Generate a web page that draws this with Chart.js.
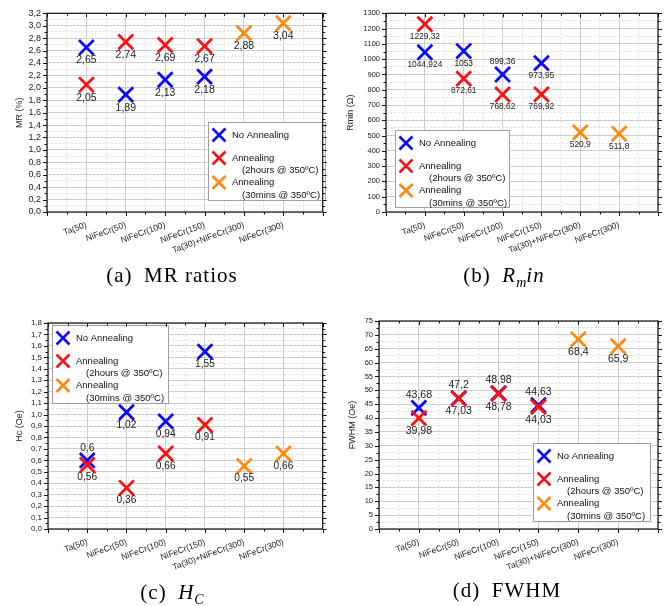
<!DOCTYPE html>
<html>
<head>
<meta charset="utf-8">
<script src="https://cdn.jsdelivr.net/npm/chart.js@4.4.1/dist/chart.umd.min.js"></script>
<style>
  body { margin: 0; background: #fff; }
  #fig { position: relative; width: 672px; height: 606px; overflow: hidden; }
  #fig canvas { position: absolute; }
  .cap {
    position: absolute; width: 336px; text-align: center;
    font-family: "Liberation Serif", "DejaVu Serif", serif; font-size: 21px;
    letter-spacing: 1px; color: #000; line-height: 22px;
  }
  .cap sub { font-size: 14px; letter-spacing: 0; }
</style>
</head>
<body>
<div id="fig">
  <canvas id="chartMR" width="336" height="290" style="left:0;top:0"></canvas>
  <canvas id="chartR" width="336" height="290" style="left:336px;top:0"></canvas>
  <canvas id="chartHc" width="336" height="290" style="left:0;top:300px"></canvas>
  <canvas id="chartFW" width="336" height="290" style="left:336px;top:300px"></canvas>
  <div class="cap" style="left:4px;top:264px">(a)&ensp;MR ratios</div>
  <div class="cap" style="left:336px;top:264px">(b)&ensp;<i>R</i><sub><i>m</i></sub><i>in</i></div>
  <div class="cap" style="left:4px;top:581px">(c)&ensp;<i>H</i><sub><i>C</i></sub></div>
  <div class="cap" style="left:339px;top:579px">(d)&ensp;FWHM</div>
</div>
<script>
// samples along the x axis
var samples = ['Ta(50)', 'NiFeCr(50)', 'NiFeCr(100)', 'NiFeCr(150)', 'Ta(30)+NiFeCr(300)', 'NiFeCr(300)'];
var seriesNames = [['No Annealing'], ['Annealing', '(2hours @ 350ºC)'], ['Annealing', '(30mins @ 350ºC)']];

// MR ratio (%)
var mrNoAnneal = [2.65, 1.89, 2.13, 2.18, null, null];
var mrAnneal2h = [2.05, 2.74, 2.69, 2.67, null, null];
var mrAnneal30 = [null, null, null, null, 2.88, 3.04];

// Rmin (ohm)
var rNoAnneal = [1044.924, 1053, 899.36, 973.95, null, null];
var rAnneal2h = [1229.32, 872.61, 768.62, 769.92, null, null];
var rAnneal30 = [null, null, null, null, 520.9, 511.8];

// Hc (Oe)
var hcNoAnneal = [0.6, 1.02, 0.94, 1.55, null, null];
var hcAnneal2h = [0.56, 0.36, 0.66, 0.91, null, null];
var hcAnneal30 = [null, null, null, null, 0.55, 0.66];

// FWHM (Oe)
var fwNoAnneal = [43.68, 47.2, 48.98, 44.63, null, null];
var fwAnneal2h = [39.98, 47.03, 48.78, 44.03, null, null];
var fwAnneal30 = [null, null, null, null, 68.4, 65.9];

var COLORS = ['#0a0aff', '#ff1010', '#ff8a10'];
var SANS = '"Liberation Sans", Arial, sans-serif';
Chart.defaults.font.family = SANS;
Chart.defaults.color = '#222';

function isMajor(v, step) {
  var r = v / step;
  return Math.abs(r - Math.round(r)) < 1e-6;
}

function drawX(ctx, x, y, half, color) {
  ctx.strokeStyle = color;
  ctx.lineWidth = 2.6;
  ctx.beginPath();
  ctx.moveTo(x - half, y - half); ctx.lineTo(x + half, y + half);
  ctx.moveTo(x - half, y + half); ctx.lineTo(x + half, y - half);
  ctx.stroke();
}

// value written under (or over) each cross, with a decimal comma
var pointLabels = {
  id: 'pointLabels',
  afterDatasetsDraw: function (chart, args, opts) {
    var ctx = chart.ctx;
    ctx.save();
    ctx.font = opts.size + 'px ' + SANS;
    ctx.fillStyle = '#222';
    ctx.textAlign = 'center';
    ctx.textBaseline = 'middle';
    chart.data.datasets.forEach(function (ds, i) {
      var meta = chart.getDatasetMeta(i);
      ds.data.forEach(function (p, j) {
        if (p.y == null) return;
        var el = meta.data[j];
        var above = ds.labelAbove && ds.labelAbove[j];
        ctx.fillText(String(p.y).replace('.', ','), el.x, el.y + (above ? -opts.gap : opts.gap));
      });
    });
    ctx.restore();
  }
};

// boxed legend sitting inside the plot
var boxLegend = {
  id: 'boxLegend',
  afterDraw: function (chart, args, opts) {
    var ctx = chart.ctx;
    var rows = [13, 36, 60.5];
    ctx.save();
    ctx.fillStyle = '#fff';
    ctx.fillRect(opts.x, opts.y, opts.w, opts.h);
    ctx.strokeStyle = '#a0a0a0';
    ctx.lineWidth = 1;
    ctx.strokeRect(opts.x + 0.5, opts.y + 0.5, opts.w, opts.h);
    ctx.font = '9.5px ' + SANS;
    ctx.textBaseline = 'middle';
    seriesNames.forEach(function (lines, i) {
      var y = opts.y + rows[i];
      drawX(ctx, opts.x + 11, y, 6.5, COLORS[i]);
      ctx.fillStyle = '#111';
      lines.forEach(function (t, k) {
        ctx.fillText(t, opts.x + (k ? 34 : 24), y + k * 12.5);
      });
    });
    ctx.restore();
  }
};

// black box round the plot with tick marks on every side
var frame = {
  id: 'frame',
  afterDraw: function (chart, args, opts) {
    var ctx = chart.ctx, a = chart.chartArea;
    var xs = chart.scales.x, ys = chart.scales.y;
    ctx.save();
    ctx.strokeStyle = '#111';
    ctx.lineWidth = 1.2;
    ctx.strokeRect(a.left, a.top, a.right - a.left, a.bottom - a.top);
    ctx.lineWidth = 1;
    ctx.beginPath();
    ys.ticks.forEach(function (t) {
      var py = Math.round(ys.getPixelForValue(t.value)) + 0.5;
      var len = isMajor(t.value, opts.yMajor) ? 4 : 2.5;
      ctx.moveTo(a.left - len, py); ctx.lineTo(a.left, py);
      ctx.moveTo(a.right, py); ctx.lineTo(a.right + len, py);
    });
    xs.ticks.forEach(function (t) {
      var px = Math.round(xs.getPixelForValue(t.value)) + 0.5;
      var len = isMajor(t.value, 1) ? 4 : 2.5;
      ctx.moveTo(px, a.bottom); ctx.lineTo(px, a.bottom + len);
      ctx.moveTo(px, a.top); ctx.lineTo(px, a.top + len);
    });
    ctx.stroke();
    ctx.restore();
  }
};

function gridColor(step) {
  return function (c) {
    return isMajor(c.tick.value, step) ? '#cdcdcd' : '#e2e2e2';
  };
}
function gridDash(step) {
  return function (c) {
    return c.tick && !isMajor(c.tick.value, step) ? [2, 2] : [];
  };
}

function buildChart(id, cfg) {
  var ctx = document.getElementById(id).getContext('2d');
  var H = ctx.canvas.height, W = ctx.canvas.width;
  var datasets = cfg.series.map(function (vals, k) {
    return {
      label: seriesNames[k].join(' '),
      data: vals.map(function (v, i) { return { x: i + 1, y: v }; }),
      pointStyle: 'crossRot',
      pointRadius: 10.5,
      pointHoverRadius: 10.5,
      pointBorderWidth: 2.8,
      borderColor: COLORS[k],
      backgroundColor: COLORS[k],
      showLine: false,
      order: k === 1 ? 0 : k + 1,
      labelAbove: cfg.labelAbove[k]
    };
  });
  return new Chart(ctx, {
    type: 'scatter',
    data: { datasets: datasets },
    plugins: [pointLabels, boxLegend, frame],
    options: {
      responsive: false,
      animation: false,
      events: [],
      layout: { padding: { top: cfg.area.top, right: W - cfg.area.right, left: 0, bottom: 0 } },
      scales: {
        x: {
          type: 'linear', min: 0, max: 7,
          ticks: {
            stepSize: 0.5, autoSkip: false, maxTicksLimit: 1000,
            minRotation: 20, maxRotation: 20, padding: 8,
            font: { size: 8.5 }, color: '#222',
            callback: function (v) {
              return (Number.isInteger(v) && v >= 1 && v <= 6) ? samples[v - 1] : '';
            }
          },
          grid: { drawTicks: false, color: gridColor(1), lineWidth: 1 },
          border: { display: false, dash: gridDash(1) },
          afterFit: function (s) { s.height = H - cfg.area.bottom; s.paddingLeft = 0; s.paddingRight = 0; }
        },
        y: {
          min: 0, max: cfg.yMax,
          ticks: {
            stepSize: cfg.yMinor, maxTicksLimit: 1000, autoSkip: false, padding: 6,
            font: { size: cfg.tickSize }, color: '#222',
            callback: function (v) {
              return isMajor(v, cfg.yMajor) ? v.toFixed(cfg.decimals).replace('.', ',') : '';
            }
          },
          grid: { drawTicks: false, color: gridColor(cfg.yMajor), lineWidth: 1 },
          border: { display: false, dash: gridDash(cfg.yMajor) },
          title: {
            display: true, text: cfg.yTitle, color: '#222',
            font: { size: 9 }, padding: { top: cfg.titlePad, bottom: 0 }
          },
          afterFit: function (s) { s.width = cfg.area.left; s.paddingTop = 0; s.paddingBottom = 0; }
        }
      },
      plugins: {
        legend: { display: false },
        tooltip: { enabled: false },
        pointLabels: { size: cfg.labelSize, gap: cfg.labelGap },
        boxLegend: cfg.legendBox,
        frame: { yMajor: cfg.yMajor }
      }
    }
  });
}

buildChart('chartMR', {
  series: [mrNoAnneal, mrAnneal2h, mrAnneal30],
  labelAbove: [[], [], []],
  yTitle: 'MR (%)', yMax: 3.2, yMajor: 0.2, yMinor: 0.1, decimals: 1,
  area: { left: 47, top: 4, right: 325, bottom: 212 },
  tickSize: 9, labelSize: 10.5, labelGap: 13, titlePad: 14,
  legendBox: { x: 208, y: 122, w: 117, h: 78 }
});

buildChart('chartR', {
  series: [rNoAnneal, rAnneal2h, rAnneal30],
  labelAbove: [[false, false, true, false], [], []],
  yTitle: 'Rmin (Ω)', yMax: 1300, yMajor: 100, yMinor: 50, decimals: 0,
  area: { left: 50, top: 10, right: 322, bottom: 212 },
  tickSize: 7.5, labelSize: 8.4, labelGap: 12.5, titlePad: 9,
  legendBox: { x: 59, y: 130, w: 114, h: 77 }
});

buildChart('chartHc', {
  series: [hcNoAnneal, hcAnneal2h, hcAnneal30],
  labelAbove: [[true, false, false, false], [], []],
  yTitle: 'Hc (Oe)', yMax: 1.8, yMajor: 0.1, yMinor: 0.05, decimals: 1,
  area: { left: 48, top: 23, right: 325, bottom: 229 },
  tickSize: 8, labelSize: 10.2, labelGap: 12.5, titlePad: 14,
  legendBox: { x: 52, y: 25, w: 116, h: 78 }
});

buildChart('chartFW', {
  series: [fwNoAnneal, fwAnneal2h, fwAnneal30],
  labelAbove: [[true, true, true, true], [], []],
  yTitle: 'FWHM (Oe)', yMax: 75, yMajor: 5, yMinor: 2.5, decimals: 0,
  area: { left: 43, top: 21, right: 322, bottom: 229 },
  tickSize: 7.5, labelSize: 10.5, labelGap: 13, titlePad: 11,
  legendBox: { x: 197, y: 143, w: 117, h: 78 }
});
</script>
</body>
</html>
